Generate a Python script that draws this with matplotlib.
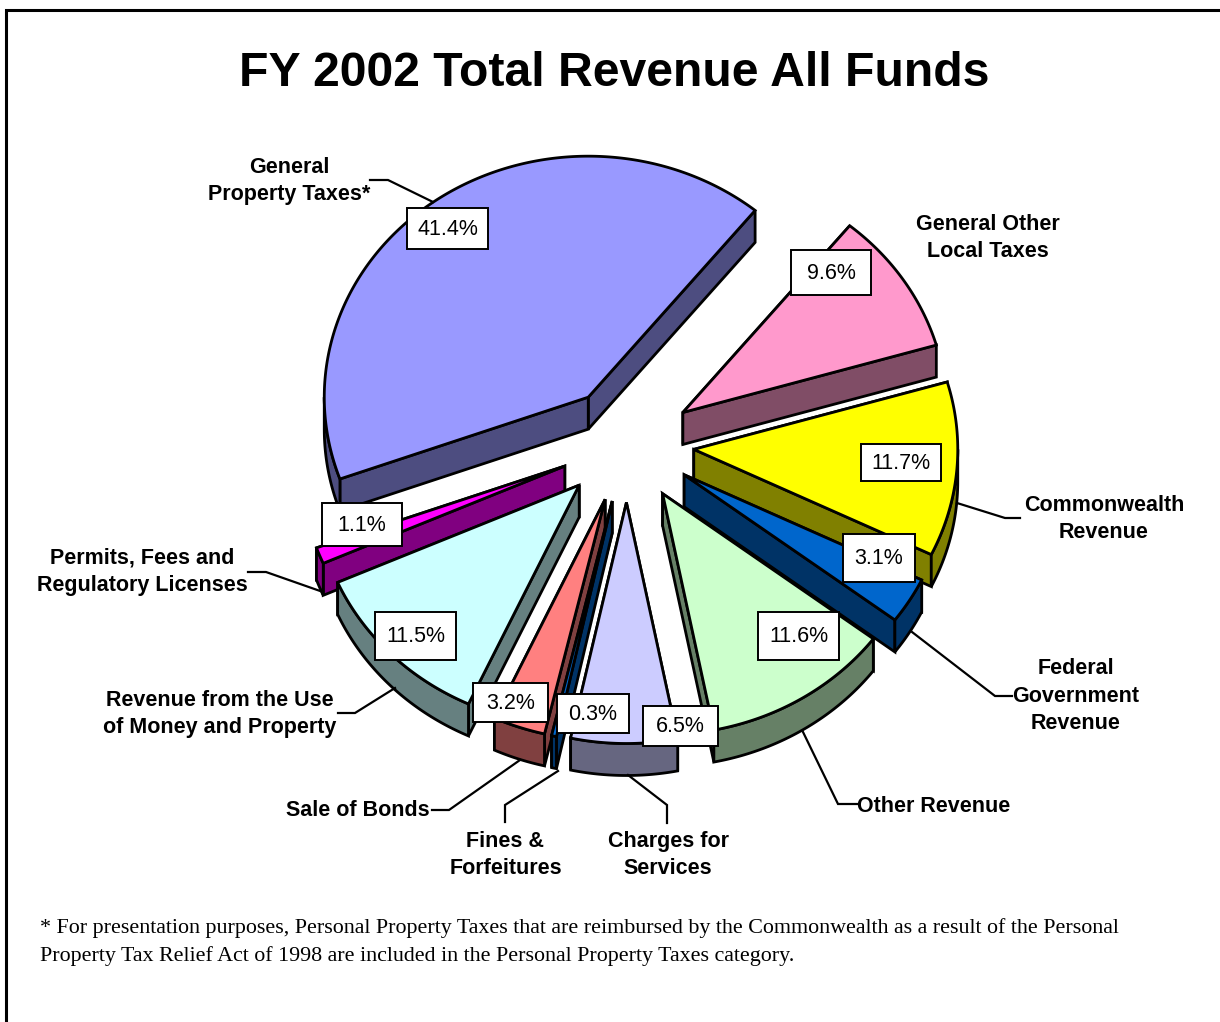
import numpy as np
import matplotlib
matplotlib.use("Agg")
import matplotlib.pyplot as plt
from matplotlib.patches import Polygon, Rectangle

# slice data, clockwise starting after the 39 degree mark
categories = ["General Other Local Taxes", "Commonwealth Revenue", "Federal Government Revenue",
              "Other Revenue", "Charges for Services", "Fines & Forfeitures", "Sale of Bonds",
              "Revenue from the Use of Money and Property", "Permits, Fees and Regulatory Licenses",
              "General Property Taxes*"]
shares = [9.6, 11.7, 3.1, 11.6, 6.5, 0.3, 3.2, 11.5, 1.1, 41.4]
colors = ["#FF99CC", "#FFFF00", "#0066CC", "#CCFFCC", "#CCCCFF", "#0066CC", "#FF8080",
          "#CCFFFF", "#FF00FF", "#9999FF"]

# labels with their line breaks
slice_labels = ["General Other\nLocal Taxes", "Commonwealth\nRevenue", "Federal\nGovernment\nRevenue",
                "Other Revenue", "Charges for\nServices", "Fines &\nForfeitures", "Sale of Bonds",
                "Revenue from the Use\nof Money and Property", "Permits, Fees and\nRegulatory Licenses",
                "General\nProperty Taxes*"]
title = "FY 2002 Total Revenue All Funds"
footnote = ["* For presentation purposes, Personal Property Taxes that are reimbursed by the Commonwealth as a result of the Personal",
            "Property Tax Relief Act of 1998 are included in the Personal Property Taxes category."]

# layout (pixel units of the reference)
CENTER = (627, 444.5)
RX, RY = 264, 241
EXPLODE_X, EXPLODE_Y = 67, 58
DEPTH = 32
START = 39.2
LW = 2.0
draw_order = [9, 0, 1, 8, 3, 2, 7, 4, 6, 5]

label_pos = [(987.5, 238), (1104, 519), (1076, 696), (934, 806), (668, 855),
             (505.5, 855), (358, 811), (220, 714), (142, 572), (289, 181)]
pct_boxes = [(791, 250, 871, 295), (861, 444, 941, 481), (843, 534, 915, 582), (758, 612, 839, 660),
             (643, 706, 718, 746), (557, 694, 629, 733), (473, 683, 548, 722), (375, 612, 456, 660),
             (322, 503, 402, 546), (407, 208, 488, 249)]
leaders = [None,
           [(957, 503), (1005, 518), (1020, 518)],
           [(912, 632), (995, 696), (1012, 696)],
           [(803, 732), (838, 804), (857, 804)],
           [(628, 775), (667, 805), (667, 823)],
           [(558, 771), (505, 805), (505, 822)],
           [(520, 760), (449, 810), (432, 810)],
           [(395, 688), (355, 713), (338, 713)],
           [(323, 592), (266, 572), (248, 572)],
           [(370, 180), (388, 180), (433, 202)]]


def dark(color):
    rgb = np.array(matplotlib.colors.to_rgb(color))
    return tuple(rgb * 0.5)


def arc_points(cx, cy, a0, a1):
    t = np.radians(np.linspace(a0, a1, max(int(a1 - a0) * 2, 3)))
    return np.column_stack([cx + RX * np.sin(t), cy - RY * np.cos(t)])


def draw_slice(ax, a0, a1, color):
    mid = np.radians((a0 + a1) / 2)
    cx = CENTER[0] + EXPLODE_X * np.sin(mid)
    cy = CENTER[1] - EXPLODE_Y * np.cos(mid)
    arc = arc_points(cx, cy, a0, a1)
    apex = np.array([[cx, cy]])
    down = np.array([0, DEPTH])
    style = dict(edgecolor="black", linewidth=LW, joinstyle="miter")

    # upper radial wall first, it sits behind the lower one
    wall = dark(color)
    for end in sorted((arc[0], arc[-1]), key=lambda p: p[1]):
        quad = np.vstack([apex, [end], [end + down], apex + down])
        ax.add_patch(Polygon(quad, facecolor=wall, **style))

    # rim only where it faces the viewer, 90 to 270 degrees
    lo, hi = max(a0, 90), min(a1, 270)
    if lo < hi:
        rim = arc_points(cx, cy, lo, hi)
        ax.add_patch(Polygon(np.vstack([rim, rim[::-1] + down]), facecolor=wall, **style))

    ax.add_patch(Polygon(np.vstack([apex, arc]), facecolor=color, **style))


def main():
    plt.rcParams["font.family"] = "Liberation Sans"
    fig = plt.figure(figsize=(12.2, 10.22), dpi=100)
    ax = fig.add_axes([0, 0, 1, 1])
    ax.set_xlim(0, 1220)
    ax.set_ylim(1022, 0)
    ax.axis("off")

    # frame only on the left and top
    ax.plot([5.5, 5.5, 1220], [1022, 10, 10], color="black", lw=2.2, solid_joinstyle="miter")

    ax.text(614, 73.5, title, fontsize=34.7, fontweight="bold", ha="center", va="center")

    for line in leaders:
        if line is not None:
            xs, ys = zip(*line)
            ax.plot(xs, ys, color="black", lw=1.6, solid_joinstyle="miter")

    total = sum(shares)
    edges = START + np.cumsum([0] + shares) / total * 360
    for i in draw_order:
        draw_slice(ax, edges[i], edges[i + 1], colors[i])

    for i, box in enumerate(pct_boxes):
        x0, y0, x1, y1 = box
        ax.add_patch(Rectangle((x0, y0), x1 - x0, y1 - y0, facecolor="white", edgecolor="black", lw=1.4))
        ax.text((x0 + x1) / 2, (y0 + y1) / 2 + 1, f"{shares[i]:.1f}%", fontsize=15.5, ha="center", va="center")

    for text, (x, y) in zip(slice_labels, label_pos):
        ax.text(x, y, text, fontsize=15.5, fontweight="bold", ha="center", va="center",
                linespacing=1.4, multialignment="center")

    for k, line in enumerate(footnote):
        ax.text(40, 928.5 + 28 * k, line, fontsize=15.8, family="Liberation Serif", ha="left", va="center")

    fig.savefig("out.png", dpi=100)


if __name__ == "__main__":
    main()
